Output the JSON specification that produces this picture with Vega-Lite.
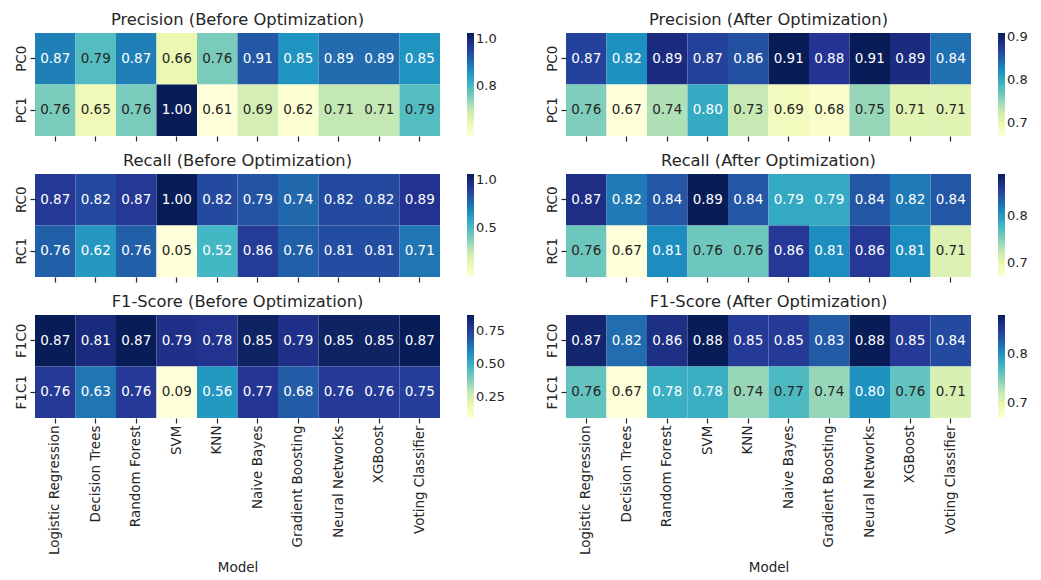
{
  "$schema": "https://vega.github.io/schema/vega-lite/v6.json",
  "padding": {"left": 14, "top": 11, "right": 5, "bottom": 5},
  "background": "white",
  "config": {
    "font": "DejaVu Sans",
    "view": {"stroke": null},
    "title": {"fontSize": 16.3, "fontWeight": "normal", "color": "#262626", "offset": 5},
    "axis": {"labelFont": "DejaVu Sans", "labelFontSize": 13.5, "labelColor": "#262626", "tickColor": "#262626", "tickSize": 5, "tickWidth": 1.2, "domain": false, "grid": false, "titleFontSize": 13.5, "titleFontWeight": "normal", "titleColor": "#262626"},
    "legend": {"gradientLength": 103, "gradientThickness": 7, "labelFontSize": 13, "labelColor": "#262626", "offset": 27, "gradientStrokeWidth": 0, "labelOffset": 9}
  },
  "data": {"values": [
    {"panel": "PB", "cls": "PC0", "model": "Logistic Regression", "value": 0.87},
    {"panel": "PB", "cls": "PC0", "model": "Decision Trees", "value": 0.79},
    {"panel": "PB", "cls": "PC0", "model": "Random Forest", "value": 0.87},
    {"panel": "PB", "cls": "PC0", "model": "SVM", "value": 0.66},
    {"panel": "PB", "cls": "PC0", "model": "KNN", "value": 0.76},
    {"panel": "PB", "cls": "PC0", "model": "Naive Bayes", "value": 0.91},
    {"panel": "PB", "cls": "PC0", "model": "Gradient Boosting", "value": 0.85},
    {"panel": "PB", "cls": "PC0", "model": "Neural Networks", "value": 0.89},
    {"panel": "PB", "cls": "PC0", "model": "XGBoost", "value": 0.89},
    {"panel": "PB", "cls": "PC0", "model": "Voting Classifier", "value": 0.85},
    {"panel": "PB", "cls": "PC1", "model": "Logistic Regression", "value": 0.76},
    {"panel": "PB", "cls": "PC1", "model": "Decision Trees", "value": 0.65},
    {"panel": "PB", "cls": "PC1", "model": "Random Forest", "value": 0.76},
    {"panel": "PB", "cls": "PC1", "model": "SVM", "value": 1.00},
    {"panel": "PB", "cls": "PC1", "model": "KNN", "value": 0.61},
    {"panel": "PB", "cls": "PC1", "model": "Naive Bayes", "value": 0.69},
    {"panel": "PB", "cls": "PC1", "model": "Gradient Boosting", "value": 0.62},
    {"panel": "PB", "cls": "PC1", "model": "Neural Networks", "value": 0.71},
    {"panel": "PB", "cls": "PC1", "model": "XGBoost", "value": 0.71},
    {"panel": "PB", "cls": "PC1", "model": "Voting Classifier", "value": 0.79},

    {"panel": "PA", "cls": "PC0", "model": "Logistic Regression", "value": 0.87},
    {"panel": "PA", "cls": "PC0", "model": "Decision Trees", "value": 0.82},
    {"panel": "PA", "cls": "PC0", "model": "Random Forest", "value": 0.89},
    {"panel": "PA", "cls": "PC0", "model": "SVM", "value": 0.87},
    {"panel": "PA", "cls": "PC0", "model": "KNN", "value": 0.86},
    {"panel": "PA", "cls": "PC0", "model": "Naive Bayes", "value": 0.91},
    {"panel": "PA", "cls": "PC0", "model": "Gradient Boosting", "value": 0.88},
    {"panel": "PA", "cls": "PC0", "model": "Neural Networks", "value": 0.91},
    {"panel": "PA", "cls": "PC0", "model": "XGBoost", "value": 0.89},
    {"panel": "PA", "cls": "PC0", "model": "Voting Classifier", "value": 0.84},
    {"panel": "PA", "cls": "PC1", "model": "Logistic Regression", "value": 0.76},
    {"panel": "PA", "cls": "PC1", "model": "Decision Trees", "value": 0.67},
    {"panel": "PA", "cls": "PC1", "model": "Random Forest", "value": 0.74},
    {"panel": "PA", "cls": "PC1", "model": "SVM", "value": 0.80},
    {"panel": "PA", "cls": "PC1", "model": "KNN", "value": 0.73},
    {"panel": "PA", "cls": "PC1", "model": "Naive Bayes", "value": 0.69},
    {"panel": "PA", "cls": "PC1", "model": "Gradient Boosting", "value": 0.68},
    {"panel": "PA", "cls": "PC1", "model": "Neural Networks", "value": 0.75},
    {"panel": "PA", "cls": "PC1", "model": "XGBoost", "value": 0.71},
    {"panel": "PA", "cls": "PC1", "model": "Voting Classifier", "value": 0.71},

    {"panel": "RB", "cls": "RC0", "model": "Logistic Regression", "value": 0.87},
    {"panel": "RB", "cls": "RC0", "model": "Decision Trees", "value": 0.82},
    {"panel": "RB", "cls": "RC0", "model": "Random Forest", "value": 0.87},
    {"panel": "RB", "cls": "RC0", "model": "SVM", "value": 1.00},
    {"panel": "RB", "cls": "RC0", "model": "KNN", "value": 0.82},
    {"panel": "RB", "cls": "RC0", "model": "Naive Bayes", "value": 0.79},
    {"panel": "RB", "cls": "RC0", "model": "Gradient Boosting", "value": 0.74},
    {"panel": "RB", "cls": "RC0", "model": "Neural Networks", "value": 0.82},
    {"panel": "RB", "cls": "RC0", "model": "XGBoost", "value": 0.82},
    {"panel": "RB", "cls": "RC0", "model": "Voting Classifier", "value": 0.89},
    {"panel": "RB", "cls": "RC1", "model": "Logistic Regression", "value": 0.76},
    {"panel": "RB", "cls": "RC1", "model": "Decision Trees", "value": 0.62},
    {"panel": "RB", "cls": "RC1", "model": "Random Forest", "value": 0.76},
    {"panel": "RB", "cls": "RC1", "model": "SVM", "value": 0.05},
    {"panel": "RB", "cls": "RC1", "model": "KNN", "value": 0.52},
    {"panel": "RB", "cls": "RC1", "model": "Naive Bayes", "value": 0.86},
    {"panel": "RB", "cls": "RC1", "model": "Gradient Boosting", "value": 0.76},
    {"panel": "RB", "cls": "RC1", "model": "Neural Networks", "value": 0.81},
    {"panel": "RB", "cls": "RC1", "model": "XGBoost", "value": 0.81},
    {"panel": "RB", "cls": "RC1", "model": "Voting Classifier", "value": 0.71},

    {"panel": "RA", "cls": "RC0", "model": "Logistic Regression", "value": 0.87},
    {"panel": "RA", "cls": "RC0", "model": "Decision Trees", "value": 0.82},
    {"panel": "RA", "cls": "RC0", "model": "Random Forest", "value": 0.84},
    {"panel": "RA", "cls": "RC0", "model": "SVM", "value": 0.89},
    {"panel": "RA", "cls": "RC0", "model": "KNN", "value": 0.84},
    {"panel": "RA", "cls": "RC0", "model": "Naive Bayes", "value": 0.79},
    {"panel": "RA", "cls": "RC0", "model": "Gradient Boosting", "value": 0.79},
    {"panel": "RA", "cls": "RC0", "model": "Neural Networks", "value": 0.84},
    {"panel": "RA", "cls": "RC0", "model": "XGBoost", "value": 0.82},
    {"panel": "RA", "cls": "RC0", "model": "Voting Classifier", "value": 0.84},
    {"panel": "RA", "cls": "RC1", "model": "Logistic Regression", "value": 0.76},
    {"panel": "RA", "cls": "RC1", "model": "Decision Trees", "value": 0.67},
    {"panel": "RA", "cls": "RC1", "model": "Random Forest", "value": 0.81},
    {"panel": "RA", "cls": "RC1", "model": "SVM", "value": 0.76},
    {"panel": "RA", "cls": "RC1", "model": "KNN", "value": 0.76},
    {"panel": "RA", "cls": "RC1", "model": "Naive Bayes", "value": 0.86},
    {"panel": "RA", "cls": "RC1", "model": "Gradient Boosting", "value": 0.81},
    {"panel": "RA", "cls": "RC1", "model": "Neural Networks", "value": 0.86},
    {"panel": "RA", "cls": "RC1", "model": "XGBoost", "value": 0.81},
    {"panel": "RA", "cls": "RC1", "model": "Voting Classifier", "value": 0.71},

    {"panel": "FB", "cls": "F1C0", "model": "Logistic Regression", "value": 0.87},
    {"panel": "FB", "cls": "F1C0", "model": "Decision Trees", "value": 0.81},
    {"panel": "FB", "cls": "F1C0", "model": "Random Forest", "value": 0.87},
    {"panel": "FB", "cls": "F1C0", "model": "SVM", "value": 0.79},
    {"panel": "FB", "cls": "F1C0", "model": "KNN", "value": 0.78},
    {"panel": "FB", "cls": "F1C0", "model": "Naive Bayes", "value": 0.85},
    {"panel": "FB", "cls": "F1C0", "model": "Gradient Boosting", "value": 0.79},
    {"panel": "FB", "cls": "F1C0", "model": "Neural Networks", "value": 0.85},
    {"panel": "FB", "cls": "F1C0", "model": "XGBoost", "value": 0.85},
    {"panel": "FB", "cls": "F1C0", "model": "Voting Classifier", "value": 0.87},
    {"panel": "FB", "cls": "F1C1", "model": "Logistic Regression", "value": 0.76},
    {"panel": "FB", "cls": "F1C1", "model": "Decision Trees", "value": 0.63},
    {"panel": "FB", "cls": "F1C1", "model": "Random Forest", "value": 0.76},
    {"panel": "FB", "cls": "F1C1", "model": "SVM", "value": 0.09},
    {"panel": "FB", "cls": "F1C1", "model": "KNN", "value": 0.56},
    {"panel": "FB", "cls": "F1C1", "model": "Naive Bayes", "value": 0.77},
    {"panel": "FB", "cls": "F1C1", "model": "Gradient Boosting", "value": 0.68},
    {"panel": "FB", "cls": "F1C1", "model": "Neural Networks", "value": 0.76},
    {"panel": "FB", "cls": "F1C1", "model": "XGBoost", "value": 0.76},
    {"panel": "FB", "cls": "F1C1", "model": "Voting Classifier", "value": 0.75},

    {"panel": "FA", "cls": "F1C0", "model": "Logistic Regression", "value": 0.87},
    {"panel": "FA", "cls": "F1C0", "model": "Decision Trees", "value": 0.82},
    {"panel": "FA", "cls": "F1C0", "model": "Random Forest", "value": 0.86},
    {"panel": "FA", "cls": "F1C0", "model": "SVM", "value": 0.88},
    {"panel": "FA", "cls": "F1C0", "model": "KNN", "value": 0.85},
    {"panel": "FA", "cls": "F1C0", "model": "Naive Bayes", "value": 0.85},
    {"panel": "FA", "cls": "F1C0", "model": "Gradient Boosting", "value": 0.83},
    {"panel": "FA", "cls": "F1C0", "model": "Neural Networks", "value": 0.88},
    {"panel": "FA", "cls": "F1C0", "model": "XGBoost", "value": 0.85},
    {"panel": "FA", "cls": "F1C0", "model": "Voting Classifier", "value": 0.84},
    {"panel": "FA", "cls": "F1C1", "model": "Logistic Regression", "value": 0.76},
    {"panel": "FA", "cls": "F1C1", "model": "Decision Trees", "value": 0.67},
    {"panel": "FA", "cls": "F1C1", "model": "Random Forest", "value": 0.78},
    {"panel": "FA", "cls": "F1C1", "model": "SVM", "value": 0.78},
    {"panel": "FA", "cls": "F1C1", "model": "KNN", "value": 0.74},
    {"panel": "FA", "cls": "F1C1", "model": "Naive Bayes", "value": 0.77},
    {"panel": "FA", "cls": "F1C1", "model": "Gradient Boosting", "value": 0.74},
    {"panel": "FA", "cls": "F1C1", "model": "Neural Networks", "value": 0.80},
    {"panel": "FA", "cls": "F1C1", "model": "XGBoost", "value": 0.76},
    {"panel": "FA", "cls": "F1C1", "model": "Voting Classifier", "value": 0.71}
  ]},
  "columns": 2,
  "spacing": {"row": 10, "column": 40},
  "resolve": {"scale": {"color": "independent", "x": "independent", "y": "independent"}, "legend": {"color": "independent"}, "axis": {"x": "independent", "y": "independent"}},
  "concat": [
    {
      "title": "Precision (Before Optimization)",
      "width": 405, "height": 103,
      "transform": [{"filter": "datum.panel === 'PB'"}],
      "encoding": {
        "x": {"field": "model", "type": "nominal", "sort": null, "axis": {"labels": false, "title": null}},
        "y": {"field": "cls", "type": "nominal", "sort": ["PC0", "PC1"], "axis": {"title": null, "labelAngle": -90, "labelAlign": "center", "labelBaseline": "bottom"}}
      },
      "layer": [
        {"mark": {"type": "rect"}, "encoding": {"color": {"field": "value", "type": "quantitative", "scale": {"domain": [0.61, 0.65875, 0.7075, 0.75625, 0.805, 0.85375, 0.9025, 0.95125, 1.0], "range": ["#ffffd9", "#edf8b1", "#c7e9b4", "#7fcdbb", "#41b6c4", "#1d91c0", "#225ea8", "#253494", "#081d58"], "interpolate": "rgb"}, "legend": {"title": null, "values": [0.8, 1.0], "format": ".1f"}}}},
        {"mark": {"type": "text", "fontSize": 13.5}, "encoding": {"text": {"field": "value", "type": "quantitative", "format": ".2f"}, "color": {"condition": {"test": "datum.value > 0.801", "value": "#ffffff"}, "value": "#262626"}}}
      ]
    },
    {
      "title": "Precision (After Optimization)",
      "width": 405, "height": 103,
      "transform": [{"filter": "datum.panel === 'PA'"}],
      "encoding": {
        "x": {"field": "model", "type": "nominal", "sort": null, "axis": {"labels": false, "title": null}},
        "y": {"field": "cls", "type": "nominal", "sort": ["PC0", "PC1"], "axis": {"title": null, "labelAngle": -90, "labelAlign": "center", "labelBaseline": "bottom"}}
      },
      "layer": [
        {"mark": {"type": "rect"}, "encoding": {"color": {"field": "value", "type": "quantitative", "scale": {"domain": [0.67, 0.70, 0.73, 0.76, 0.79, 0.82, 0.85, 0.88, 0.91], "range": ["#ffffd9", "#edf8b1", "#c7e9b4", "#7fcdbb", "#41b6c4", "#1d91c0", "#225ea8", "#253494", "#081d58"], "interpolate": "rgb"}, "legend": {"title": null, "values": [0.7, 0.8, 0.9], "format": ".1f"}}}},
        {"mark": {"type": "text", "fontSize": 13.5}, "encoding": {"text": {"field": "value", "type": "quantitative", "format": ".2f"}, "color": {"condition": {"test": "datum.value > 0.7876", "value": "#ffffff"}, "value": "#262626"}}}
      ]
    },
    {
      "title": "Recall (Before Optimization)",
      "width": 405, "height": 103,
      "transform": [{"filter": "datum.panel === 'RB'"}],
      "encoding": {
        "x": {"field": "model", "type": "nominal", "sort": null, "axis": {"labels": false, "title": null}},
        "y": {"field": "cls", "type": "nominal", "sort": ["RC0", "RC1"], "axis": {"title": null, "labelAngle": -90, "labelAlign": "center", "labelBaseline": "bottom"}}
      },
      "layer": [
        {"mark": {"type": "rect"}, "encoding": {"color": {"field": "value", "type": "quantitative", "scale": {"domain": [0.05, 0.16875, 0.2875, 0.40625, 0.525, 0.64375, 0.7625, 0.88125, 1.0], "range": ["#ffffd9", "#edf8b1", "#c7e9b4", "#7fcdbb", "#41b6c4", "#1d91c0", "#225ea8", "#253494", "#081d58"], "interpolate": "rgb"}, "legend": {"title": null, "values": [0.5, 1.0], "format": ".1f"}}}},
        {"mark": {"type": "text", "fontSize": 13.5}, "encoding": {"text": {"field": "value", "type": "quantitative", "format": ".2f"}, "color": {"condition": {"test": "datum.value > 0.5155", "value": "#ffffff"}, "value": "#262626"}}}
      ]
    },
    {
      "title": "Recall (After Optimization)",
      "width": 405, "height": 103,
      "transform": [{"filter": "datum.panel === 'RA'"}],
      "encoding": {
        "x": {"field": "model", "type": "nominal", "sort": null, "axis": {"labels": false, "title": null}},
        "y": {"field": "cls", "type": "nominal", "sort": ["RC0", "RC1"], "axis": {"title": null, "labelAngle": -90, "labelAlign": "center", "labelBaseline": "bottom"}}
      },
      "layer": [
        {"mark": {"type": "rect"}, "encoding": {"color": {"field": "value", "type": "quantitative", "scale": {"domain": [0.67, 0.6975, 0.725, 0.7525, 0.78, 0.8075, 0.835, 0.8625, 0.89], "range": ["#ffffd9", "#edf8b1", "#c7e9b4", "#7fcdbb", "#41b6c4", "#1d91c0", "#225ea8", "#253494", "#081d58"], "interpolate": "rgb"}, "legend": {"title": null, "values": [0.7, 0.8], "format": ".1f"}}}},
        {"mark": {"type": "text", "fontSize": 13.5}, "encoding": {"text": {"field": "value", "type": "quantitative", "format": ".2f"}, "color": {"condition": {"test": "datum.value > 0.778", "value": "#ffffff"}, "value": "#262626"}}}
      ]
    },
    {
      "title": "F1-Score (Before Optimization)",
      "width": 405, "height": 103,
      "transform": [{"filter": "datum.panel === 'FB'"}],
      "encoding": {
        "x": {"field": "model", "type": "nominal", "sort": null, "axis": {"labelAngle": -90, "title": "Model", "titlePadding": 6}},
        "y": {"field": "cls", "type": "nominal", "sort": ["F1C0", "F1C1"], "axis": {"title": null, "labelAngle": -90, "labelAlign": "center", "labelBaseline": "bottom"}}
      },
      "layer": [
        {"mark": {"type": "rect"}, "encoding": {"color": {"field": "value", "type": "quantitative", "scale": {"domain": [0.09, 0.1875, 0.285, 0.3825, 0.48, 0.5775, 0.675, 0.7725, 0.87], "range": ["#ffffd9", "#edf8b1", "#c7e9b4", "#7fcdbb", "#41b6c4", "#1d91c0", "#225ea8", "#253494", "#081d58"], "interpolate": "rgb"}, "legend": {"title": null, "values": [0.25, 0.5, 0.75], "format": ".2f"}}}},
        {"mark": {"type": "text", "fontSize": 13.5}, "encoding": {"text": {"field": "value", "type": "quantitative", "format": ".2f"}, "color": {"condition": {"test": "datum.value > 0.472", "value": "#ffffff"}, "value": "#262626"}}}
      ]
    },
    {
      "title": "F1-Score (After Optimization)",
      "width": 405, "height": 103,
      "transform": [{"filter": "datum.panel === 'FA'"}],
      "encoding": {
        "x": {"field": "model", "type": "nominal", "sort": null, "axis": {"labelAngle": -90, "title": "Model", "titlePadding": 6}},
        "y": {"field": "cls", "type": "nominal", "sort": ["F1C0", "F1C1"], "axis": {"title": null, "labelAngle": -90, "labelAlign": "center", "labelBaseline": "bottom"}}
      },
      "layer": [
        {"mark": {"type": "rect"}, "encoding": {"color": {"field": "value", "type": "quantitative", "scale": {"domain": [0.67, 0.69625, 0.7225, 0.74875, 0.775, 0.80125, 0.8275, 0.85375, 0.88], "range": ["#ffffd9", "#edf8b1", "#c7e9b4", "#7fcdbb", "#41b6c4", "#1d91c0", "#225ea8", "#253494", "#081d58"], "interpolate": "rgb"}, "legend": {"title": null, "values": [0.7, 0.8], "format": ".1f"}}}},
        {"mark": {"type": "text", "fontSize": 13.5}, "encoding": {"text": {"field": "value", "type": "quantitative", "format": ".2f"}, "color": {"condition": {"test": "datum.value > 0.773", "value": "#ffffff"}, "value": "#262626"}}}
      ]
    }
  ]
}
